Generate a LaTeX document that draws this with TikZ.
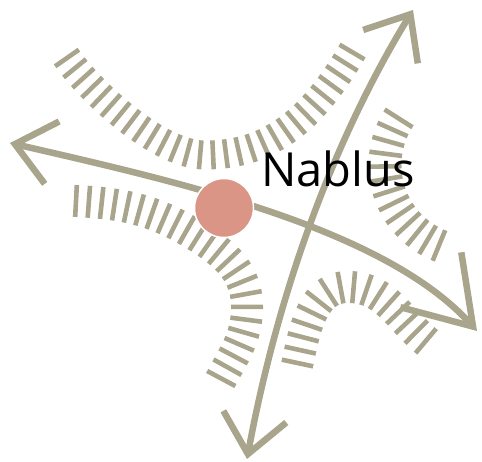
\documentclass[tikz,border=0pt]{standalone}
\usepackage{fontspec}
\setmainfont{Open Sans}
\usetikzlibrary{arrows.meta,decorations.markings}
\definecolor{khaki}{RGB}{169,164,140}
\definecolor{town}{RGB}{218,149,135}

\begin{document}
\begin{tikzpicture}[x=1pt,y=1pt,
  road/.style={khaki,line width=6.5pt},
  hachure/.style 2 args={postaction={decorate,decoration={markings,
    mark=between positions 0 and 1 step #1 with {\draw[khaki,line width=4.6pt] (0,-#2pt) -- (0,#2pt);}}}}]
  \useasboundingbox (0,0) rectangle (482,-462);
  % ridges
  \path[hachure={0.0357}{14.5}] (67,-58) .. controls (90,-91) and (158,-155) .. (205,-155) .. controls (270,-155) and (312,-120) .. (352,-52);
  \path[hachure={0.0434}{16}] (76,-201) to[out=-3,in=147.5] (200,-238) to[out=-32.5,in=90] (247,-307) to[out=-90,in=62] (221,-379);
  \path[hachure={0.0833}{16.5}] (472,-165) ++(147.6:87) arc[start angle=147.6,end angle=247.7,radius=87];
  \path[hachure={0.0666}{16}] (297.5,-363) to[out=78,in=180] (348,-287) to[out=0,in=140] (426,-341);
  % roads
  \coordinate (west) at (10,-143);
  \coordinate (east) at (477,-331);
  \coordinate (north) at (413,-10);
  \coordinate (south) at (247,-459);
  \draw[road,{Straight Barb[length=38pt,width=64pt]}-{Straight Barb[length=63pt,width=82pt]}] (west) .. controls (173.7,-180.8) and (383.3,-227) .. (east);
  \draw[road,{Straight Barb[length=38pt,width=64pt]}-{Straight Barb[length=38pt,width=64pt]}] (south) .. controls (276,-302) and (329.4,-146.4) .. (north);
  % town
  \node[circle,fill=town,draw=white,line width=1.5pt,minimum size=59pt,inner sep=0pt] (nablus) at (224,-208) {};
  \node[anchor=base west,inner sep=0pt,font=\fontsize{47}{47}\selectfont] (label) at (261,-187) {Nablus};
\end{tikzpicture}
\end{document}
